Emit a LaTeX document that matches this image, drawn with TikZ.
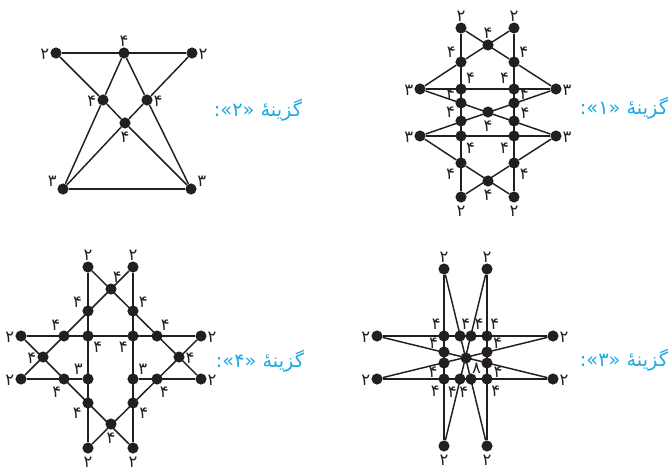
\documentclass[tikz,border=0pt]{standalone}
\usepackage{fontspec}
\usepackage{tikz}
\usetikzlibrary{backgrounds}
\newfontfamily\farsifont[Script=Arabic]{DejaVu Sans}
\TeXXeTstate=1
\definecolor{inkblack}{HTML}{231F20}
\definecolor{optioncyan}{HTML}{1FA9E1}
\tikzset{
  dot/.style={circle, fill=inkblack, inner sep=0pt, minimum size=9.5pt},
  edge/.style={inkblack, line width=1.25pt},
  deg/.style={font=\farsifont\fontsize{14}{14}\selectfont, inkblack, inner sep=0.6pt,
    text height=10.5pt, text depth=0pt, label distance=0pt},
  option/.style={font=\farsifont\fontsize{16.5}{18}\selectfont, optioncyan, inner sep=0pt}
}
\begin{document}
\begin{tikzpicture}[x=0.03cm, y=-0.03cm]
  \useasboundingbox (0,0) rectangle (668,471);

  % option 2 (top left)
  \foreach \n/\x/\y/\a/\t in {
      b1/56/53/180/۲, b2/124/53/90/۴, b3/192/53/0/۲,
      b4/103/100/180/۴, b5/147/100/0/۴, b6/125/123/-90/۴,
      b7/63/189/160/۳, b8/191/189/20/۳}
    \node[dot, label={[deg]\a:\t}] (\n) at (\x,\y) {};
  \begin{scope}[on background layer]
    \foreach \u/\v in {b1/b3, b1/b4, b3/b5, b2/b4, b2/b5, b4/b6, b5/b6,
        b4/b7, b5/b8, b6/b7, b6/b8, b7/b8}
      \draw[edge] (\u) -- (\v);
  \end{scope}
  \node[option] (opt2) at (258,110) {\beginR گزینهٔ «۲»:\endR};

  % option 1 (top right)
  \foreach \n/\x/\y/\a/\t in {
      a1/461/28/90/۲, a2/514/28/90/۲, a3/488/45/90/۴,
      a4/461/62/140/۴, a5/514/62/40/۴,
      a6/420/89/180/۳, a7/461/89/45/۴, a8/514/89/135/۴, a9/556/89/0/۳,
      a10/461/103/155/۴, a11/514/103/30/۴, a12/488/112/-90/۴,
      a13/461/121/150/۴, a14/514/121/15/۴,
      a15/420/136/180/۳, a16/461/136/-45/۴, a17/514/136/-135/۴, a18/556/136/0/۳,
      a19/461/163/-150/۴, a20/514/163/-30/۴, a21/488/181/-90/۴,
      a22/461/197/-90/۲, a23/514/197/-90/۲}
    \node[dot, label={[deg]\a:\t}] (\n) at (\x,\y) {};
  \begin{scope}[on background layer]
    \foreach \u/\v in {a1/a22, a2/a23, a1/a5, a2/a4, a4/a6, a5/a9, a6/a9,
        a6/a18, a9/a15, a15/a18, a15/a19, a18/a20, a19/a23, a20/a22}
      \draw[edge] (\u) -- (\v);
  \end{scope}
  \node[option] (opt1) at (624,108) {\beginR گزینهٔ «۱»:\endR};

  % option 4 (bottom left)
  \foreach \n/\x/\y/\a/\t in {
      d1/88/267/90/۲, d2/133/267/90/۲, d3/111/289/80/۴,
      d4/88/311/150/۴, d5/133/311/30/۴,
      d6/21/336/180/۲, d7/64/336/120/۴, d8/88/336/-40/۴, d9/133/336/-140/۴,
      d10/157/336/60/۴, d11/201/336/0/۲,
      d12/43/357/180/۴, d13/179/357/0/۴,
      d14/21/379/180/۲, d15/64/379/-110/۴, d16/88/379/140/۳, d17/133/379/40/۳,
      d18/157/379/-70/۴, d19/201/379/0/۲,
      d20/88/403/-160/۴, d21/133/403/-20/۴, d22/111/424/-90/۴,
      d23/88/448/-90/۲, d24/133/448/-90/۲}
    \node[dot, label={[deg]\a:\t}] (\n) at (\x,\y) {};
  \begin{scope}[on background layer]
    \foreach \u/\v in {d1/d23, d2/d24, d6/d11, d14/d16, d17/d19,
        d2/d14, d1/d19, d6/d24, d11/d23}
      \draw[edge] (\u) -- (\v);
  \end{scope}
  \node[option] (opt4) at (260,361) {\beginR گزینهٔ «۴»:\endR};

  % option 3 (bottom right)
  \foreach \n/\x/\y/\a/\t in {
      c1/444/269/90/۲, c2/487/269/90/۲,
      c3/377/336/180/۲, c4/444/336/115/۴, c5/460/336/85/۴, c6/471/336/62/۴,
      c7/487/336/65/۴, c8/553/336/0/۲,
      c9/444/352/155/۴, c10/487/352/25/۴, c11/466/358/-25/۸,
      c12/444/363/-165/۴, c13/487/363/-15/۴,
      c14/377/379/180/۲, c15/444/379/-125/۴, c16/460/379/-115/۴, c17/471/379/-110/۴,
      c18/487/379/-55/۴, c19/553/379/0/۲,
      c20/444/446/-90/۲, c21/487/446/-90/۲}
    \node[dot, label={[deg]\a:\t}] (\n) at (\x,\y) {};
  \begin{scope}[on background layer]
    \foreach \u/\v in {c1/c20, c2/c21, c3/c8, c14/c19,
        c1/c21, c2/c20, c3/c19, c14/c8}
      \draw[edge] (\u) -- (\v);
  \end{scope}
  \node[option] (opt3) at (624,360) {\beginR گزینهٔ «۳»:\endR};
\end{tikzpicture}
\end{document}
